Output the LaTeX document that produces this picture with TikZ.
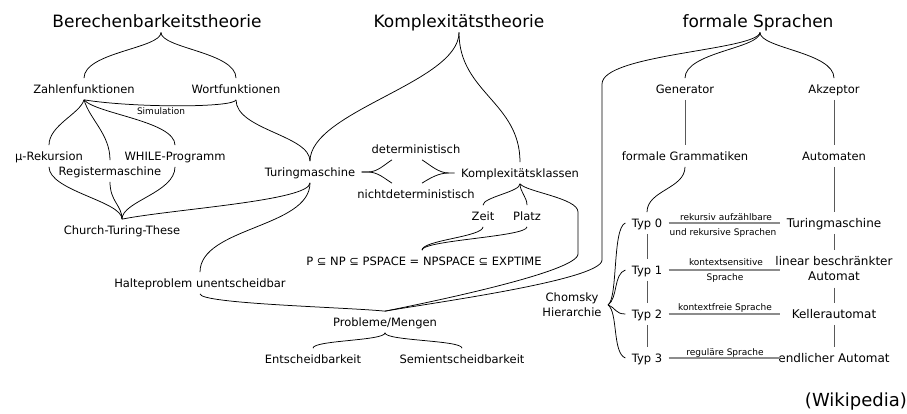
\documentclass[tikz,border=0pt]{standalone}
\usepackage{fontspec}
\setmainfont{DejaVu Sans}

\begin{document}
\begin{tikzpicture}[x=1pt,y=-1pt,
  ttl/.style={inner sep=2pt,outer sep=3pt,text height=12.9pt,text depth=0pt,font=\fontsize{17}{20}\selectfont},
  lbl/.style={inner sep=2pt,outer sep=4.5pt,text height=8.7pt,text depth=0pt,font=\fontsize{11.5}{14}\selectfont},
  big/.style={lbl,font=\fontsize{12}{15}\selectfont},
  mlbl/.style={inner sep=2pt,outer sep=4.5pt,align=center,font=\fontsize{11.5}{15}\selectfont},
  sml/.style={inner sep=1pt,text height=6.8pt,text depth=0pt,font=\fontsize{9}{11}\selectfont},
  link/.style={line width=0.75pt},
  vline/.style={line width=0.8pt,black!65},
  hline/.style={line width=1.6pt,black!45}]
\useasboundingbox (0,0) rectangle (907,414);

\node (bt) at (157,21) [ttl] {Berechenbarkeitstheorie};
\node (kt) at (459,21) [ttl] {Komplexitätstheorie};
\node (fs) at (758,21) [ttl] {formale Sprachen};

\node (zf) at (84,89) [lbl] {Zahlenfunktionen};
\node (wf) at (236,89) [lbl] {Wortfunktionen};
\node (sim) at (161,111) [sml] {Simulation};
\node (mu) at (49,156) [lbl] {μ-Rekursion};
\node (wp) at (175,156) [lbl] {WHILE-Programm};
\node (rm) at (110,171) [lbl] {Registermaschine};
\node (ctt) at (122,230) [lbl] {Church-Turing-These};
\node (tm) at (310,172) [lbl] {Turingmaschine};
\node (hp) at (200,283) [lbl] {Halteproblem unentscheidbar};

\node (det) at (416,149) [lbl] {deterministisch};
\node (ndet) at (416,194) [lbl] {nichtdeterministisch};
\node (kk) at (520,173) [lbl] {Komplexitätsklassen};
\node (zeit) at (483,216) [lbl] {Zeit};
\node (platz) at (527,216) [lbl] {Platz};
\node (pnp) at (424,261) [lbl] {P ⊆ NP ⊆ PSPACE = NPSPACE ⊆ EXPTIME};
\node (pm) at (385,322) [lbl] {Probleme/Mengen};
\node (ent) at (313,359) [lbl] {Entscheidbarkeit};
\node (sent) at (462,359) [lbl] {Semientscheidbarkeit};

\node (ch) at (572,305) [mlbl] {Chomsky\\Hierarchie};
\node (gen) at (685,89) [lbl] {Generator};
\node (akz) at (834,89) [lbl] {Akzeptor};
\node (fg) at (685,156) [lbl] {formale Grammatiken};
\node (aut) at (834,156) [lbl] {Automaten};
\node (t0) at (647,223) [lbl] {Typ 0};
\node (t1) at (647,270) [lbl] {Typ 1};
\node (t2) at (647,314) [lbl] {Typ 2};
\node (t3) at (647,358) [lbl] {Typ 3};
\node (r0) at (834,223) [big] {Turingmaschine};
\node (r1) at (834,269) [mlbl,font=\fontsize{12}{15}\selectfont] {linear beschränkter\\Automat};
\node (r2) at (834,314) [big] {Kellerautomat};
\node (r3) at (834,358) [big] {endlicher Automat};
\node (l0a) at (726,217) [sml] {rekursiv aufzählbare};
\node (l0b) at (723,232) [sml] {und rekursive Sprachen};
\node (l1a) at (726,262) [sml] {kontextsensitive};
\node (l1b) at (725,277) [sml] {Sprache};
\node (l2) at (725,307) [sml] {kontextfreie Sprache};
\node (l3) at (725,352) [sml] {reguläre Sprache};

\node (wiki) at (907,402) [anchor=east,inner sep=0pt,font=\fontsize{18}{21}\selectfont] {(Wikipedia)};

\coordinate (kr1) at (578,212);
\coordinate (kr2) at (578,254);
\coordinate (fl1) at (602,84);
\coordinate (fl2) at (602,260);

\draw[link] ([xshift=4pt]bt.south) .. controls +(0,16) and +(0,-26) .. (zf.north);
\draw[link] ([xshift=4pt]bt.south) .. controls +(0,16) and +(0,-26) .. (wf.north);
\draw[link] (zf.south) .. controls +(50,8) and +(-2,8) .. (wf.south);
\draw[link] (zf.south) .. controls +(-4,14) and +(0,-20) .. (mu.north);
\draw[link] (zf.south) .. controls +(6,20) and +(0,-26) .. (rm.north);
\draw[link] (zf.south) .. controls +(12,14) and +(0,-24) .. (wp.north);
\draw[link] (wf.south) .. controls +(0,30) and +(0,-26) .. (tm.north);
\draw[link] (kt.south) .. controls +(0,50) and +(0,-50) .. (tm.north);
\draw[link] (kt.south) .. controls +(0,60) and +(0,-60) .. (kk.north);

\draw[link] (mu.south) .. controls +(0,24) and +(0,-18) .. (ctt.north);
\draw[link] (rm.south) .. controls +(0,20) and +(0,-14) .. (ctt.north);
\draw[link] (wp.south) .. controls +(0,26) and +(0,-18) .. (ctt.north);
\draw[link] (tm.south) .. controls +(0,18) and +(50,-10) .. (ctt.north);
\draw[link] (tm.south) .. controls +(0,45) and +(0,-45) .. (hp.north);
\draw[link] (hp.south) .. controls +(0,10) and +(-40,-4) .. (pm.north);

\draw[link] (tm.east) -- ++(6,0) .. controls +(10,0) and +(-8,5) .. ([xshift=-24pt]det.south);
\draw[link] (tm.east) -- ++(6,0) .. controls +(10,0) and +(-8,-5) .. ([xshift=-24pt]ndet.north);
\draw[link] ([xshift=6pt]det.south) .. controls +(8,5) and +(-10,0) .. ([xshift=-6pt]kk.west) -- (kk.west);
\draw[link] ([xshift=6pt]ndet.north) .. controls +(8,-5) and +(-10,0) .. ([xshift=-6pt]kk.west);

\draw[link] (kk.south) .. controls +(0,8) and +(0,-8) .. (zeit.north);
\draw[link] (kk.south) .. controls +(0,8) and +(0,-8) .. (platz.north);
\draw[link] (kk.south) .. controls +(6,8) and +(0,-14) .. (kr1) -- (kr2) .. controls +(0,18) and +(40,-8) .. (pm.north);
\draw[link] (zeit.south) .. controls +(0,10) and +(0,-10) .. ([xshift=-2pt]pnp.north);
\draw[link] (platz.south) .. controls +(0,10) and +(0,-10) .. ([xshift=-2pt]pnp.north);
\draw[link] (pm.south) .. controls +(0,8) and +(0,-8) .. (ent.north);
\draw[link] (pm.south) .. controls +(0,8) and +(0,-8) .. (sent.north);

\draw[link] ([xshift=2pt]fs.south) .. controls +(0,16) and +(0,-26) .. (gen.north);
\draw[link] ([xshift=2pt]fs.south) .. controls +(0,16) and +(0,-26) .. (akz.north);
\draw[link] ([xshift=2pt]fs.south) .. controls +(-3,18) and +(0,-30) .. (fl1) -- (fl2) .. controls +(0,20) and +(45,-8) .. (pm.north);
\draw[link] (fg.south) .. controls +(0,22) and +(0,-22) .. (t0.north);

\draw[link] (ch.east) .. controls +(10,-7) and +(-13,5) .. (t0.west);
\draw[link] (ch.east) .. controls +(10,-7) and +(-12,4) .. (t1.west);
\draw[link] (ch.east) .. controls +(8,3) and +(-10,0) .. (t2.west);
\draw[link] (ch.east) .. controls +(10,7) and +(-13,-5) .. (t3.west);

\draw[vline] (gen) -- (fg);
\draw[vline] (akz) -- (aut);
\draw[vline] (aut) -- (r0);
\draw[vline] (r0) -- (r1);
\draw[vline] (r1) -- (r2);
\draw[vline] (r2) -- (r3);
\draw[vline] (t0) -- (t1);
\draw[vline] (t1) -- (t2);
\draw[vline] (t2) -- (t3);

\draw[hline] (t0.east) -- (t0.east -| r0.west);
\draw[hline] (t1.east) -- (t1.east -| r0.west);
\draw[hline] (t2.east) -- (t2.east -| r0.west);
\draw[hline] (t3.east) -- (t3.east -| r0.west);
\end{tikzpicture}
\end{document}
